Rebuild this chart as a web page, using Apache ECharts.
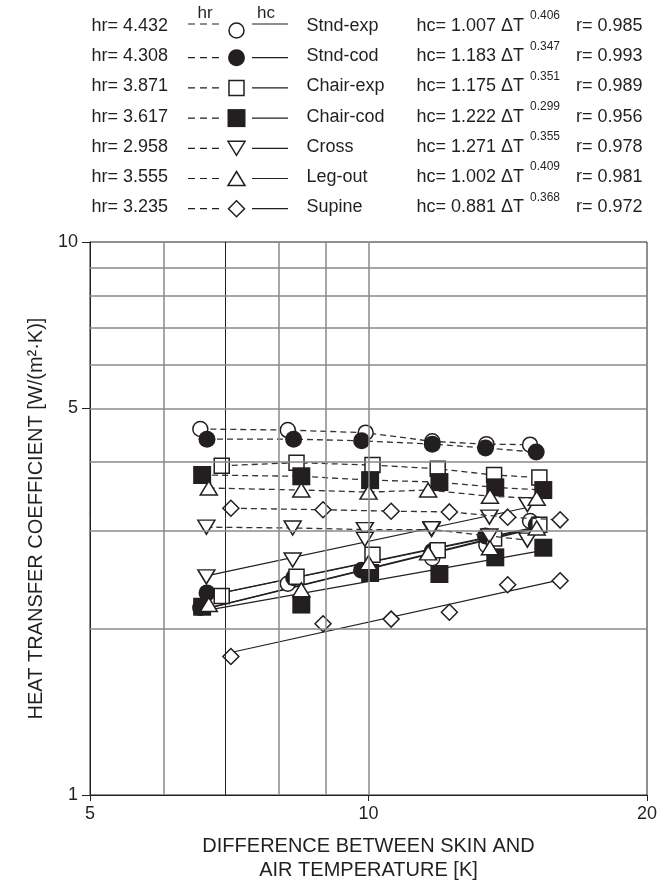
<!DOCTYPE html>
<html><head><meta charset="utf-8">
<script src="https://cdn.jsdelivr.net/npm/echarts@6/dist/echarts.min.js"></script>
<style>html,body{margin:0;padding:0;background:#fff}#c{width:667px;height:889px}</style>
</head><body><div id="c"></div>
<script>
// ---------- data ----------
const categories = ['Stnd-exp', 'Stnd-cod', 'Chair-exp', 'Chair-cod', 'Cross', 'Leg-out', 'Supine'];
const hrMean = ['4.432', '4.308', '3.871', '3.617', '2.958', '3.555', '3.235'];
const hcCoef = ['1.007', '1.183', '1.175', '1.222', '1.271', '1.002', '0.881'];
const hcExp  = ['0.406', '0.347', '0.351', '0.299', '0.355', '0.409', '0.368'];
const rVals  = ['0.985', '0.993', '0.989', '0.956', '0.978', '0.981', '0.972'];

const dTStndExp  = [6.58, 8.18, 9.93, 11.72, 13.41, 14.95];
const hrStndExp  = [4.59, 4.57, 4.52, 4.36, 4.31, 4.30];
const hcStndExp  = [2.18, 2.41, 2.55, 2.68, 2.83, 3.13];
const fitStndExp = [[6.58, 2.16], [14.95, 3.02]];

const dTStndCod  = [6.69, 8.30, 9.83, 11.72, 13.38, 15.18];
const hrStndCod  = [4.40, 4.40, 4.37, 4.31, 4.24, 4.17];
const hcStndCod  = [2.32, 2.47, 2.55, 2.76, 2.94, 3.08];
const fitStndCod = [[6.69, 2.29], [15.18, 3.04]];

const dTChairExp  = [6.94, 8.36, 10.10, 11.88, 13.67, 15.30];
const hrChairExp  = [3.94, 3.99, 3.95, 3.89, 3.79, 3.75];
const hcChairExp  = [2.29, 2.48, 2.72, 2.77, 2.91, 3.08];
const fitChairExp = [[6.94, 2.32], [15.30, 3.06]];

const dTChairCod  = [6.61, 8.46, 10.04, 11.93, 13.71, 15.45];
const hrChairCod  = [3.79, 3.77, 3.71, 3.68, 3.60, 3.56];
const hcChairCod  = [2.19, 2.21, 2.52, 2.51, 2.69, 2.80];
const fitChairCod = [[6.61, 2.15], [15.45, 2.77]];

const dTCross  = [6.68, 8.28, 9.91, 11.70, 13.51, 14.85];
const hrCross  = [3.05, 3.04, 3.02, 3.02, 2.94, 2.89];
const hcCross  = [2.48, 2.66, 2.90, 3.03, 3.18, 3.35];
const fitCross = [[6.68, 2.49], [14.85, 3.31]];

const dTLegOut  = [6.72, 8.46, 10.00, 11.60, 13.53, 15.20];
const hrLegOut  = [3.59, 3.56, 3.53, 3.56, 3.47, 3.44];
const hcLegOut  = [2.21, 2.35, 2.63, 2.74, 2.80, 3.04];
const fitLegOut = [[6.72, 2.18], [15.20, 3.05]];

const dTSupine  = [7.10, 8.93, 10.58, 12.23, 14.14, 16.11];
const hrSupine  = [3.30, 3.28, 3.26, 3.25, 3.18, 3.145];
const hcSupine  = [1.78, 2.04, 2.08, 2.14, 2.40, 2.44];
const fitSupine = [[7.10, 1.81], [16.11, 2.45]];

const xTickLabels = [5, 10, 20];
const yTickLabels = [1, 5, 10];
const xGrid = [6, 7, 8, 9, 10];
const yGrid = [2, 3, 4, 5, 6, 7, 8, 9];

// ---------- styling ----------
const INK = '#231f20';
const FONT = '"Liberation Sans", Arial, Helvetica, sans-serif';
const dTs  = [dTStndExp, dTStndCod, dTChairExp, dTChairCod, dTCross, dTLegOut, dTSupine];
const hrs  = [hrStndExp, hrStndCod, hrChairExp, hrChairCod, hrCross, hrLegOut, hrSupine];
const hcs  = [hcStndExp, hcStndCod, hcChairExp, hcChairCod, hcCross, hcLegOut, hcSupine];
const fits = [fitStndExp, fitStndCod, fitChairExp, fitChairCod, fitCross, fitLegOut, fitSupine];
const symbols = ['circle', 'circle', 'rect', 'rect', 'triangle', 'triangle', 'diamond'];
const filled  = [false, true, false, true, false, false, false];
const rotates = [0, 0, 0, 0, 180, 0, 0];
const sizes   = [[15, 15], [17, 17], [15, 15], [18, 18], [17, 14], [17, 14], [16, 16]];

function zip(a, b) { return a.map((v, k) => [v, b[k]]); }
function markerStyle(i) {
  return filled[i]
    ? { color: INK, borderColor: INK, borderWidth: 0, opacity: 1 }
    : { color: '#ffffff', borderColor: INK, borderWidth: 1.5, opacity: 1 };
}

const series = [];
// grid lines
series.push({
  type: 'line', data: [], z: 1, silent: true,
  markLine: {
    silent: true, symbol: ['none', 'none'], label: { show: false }, animation: false,
    data: xGrid.map(v => ({ xAxis: v, lineStyle: v === 7 ? { color: INK, width: 1, type: 'solid' } : { color: '#8a8a8a', width: 1.5, type: 'solid' } }))
      .concat(yGrid.map(v => ({ yAxis: v, lineStyle: { color: '#8a8a8a', width: 1.5, type: 'solid' } })))
  }
});
categories.forEach((name, i) => {
  series.push({
    type: 'line', name: name + ' fit', data: fits[i], showSymbol: false, symbol: 'none', z: 3,
    lineStyle: { color: INK, width: 1.2, type: 'solid' }, silent: true
  });
});
categories.forEach((name, i) => {
  series.push({
    type: 'line', name: name + ' hr', data: zip(dTs[i], hrs[i]), z: 4 + i * 0.01,
    symbol: symbols[i], symbolSize: sizes[i], symbolRotate: rotates[i], showAllSymbol: true,
    itemStyle: markerStyle(i),
    lineStyle: { color: '#333333', width: 1.3, type: [6, 4] }
  });
  series.push({
    type: 'scatter', name: name + ' hc', data: zip(dTs[i], hcs[i]), z: 4 + i * 0.01,
    symbol: symbols[i], symbolSize: sizes[i], symbolRotate: rotates[i],
    itemStyle: markerStyle(i)
  });
});

// ---------- legend (graphic) ----------
const graphics = [];
const rowY0 = 26, rowStep = 30.2;
function txt(x, y, text, size, align) {
  return { type: 'text', x: x, y: y, silent: true,
    style: { text: text, fontSize: size, fontFamily: FONT, fill: INK, textAlign: align || 'left', textVerticalAlign: 'middle' } };
}
function legendMarker(i, cx, cy) {
  const st = filled[i] ? { fill: INK, stroke: INK, lineWidth: 0 } : { fill: '#fff', stroke: INK, lineWidth: 1.5 };
  const w = sizes[i][0], h = sizes[i][1];
  if (symbols[i] === 'circle') return { type: 'circle', shape: { cx: cx, cy: cy, r: w / 2 }, style: st };
  if (symbols[i] === 'rect') return { type: 'rect', shape: { x: cx - w / 2, y: cy - h / 2, width: w, height: h }, style: st };
  if (symbols[i] === 'triangle') {
    const pts = rotates[i] ? [[cx - w / 2, cy - h / 2], [cx + w / 2, cy - h / 2], [cx, cy + h / 2]]
                           : [[cx, cy - h / 2], [cx + w / 2, cy + h / 2], [cx - w / 2, cy + h / 2]];
    return { type: 'polygon', shape: { points: pts }, style: st };
  }
  return { type: 'polygon', shape: { points: [[cx, cy - h / 2], [cx + w / 2, cy], [cx, cy + h / 2], [cx - w / 2, cy]] }, style: st };
}
graphics.push(txt(205, 13, 'hr', 17, 'center'));
graphics.push(txt(266, 13, 'hc', 17, 'center'));
categories.forEach((name, i) => {
  const y = rowY0 + i * rowStep;
  const ly = i === 0 ? y - 2 : y + 1.5;
  const my = i === 0 ? y + 4.5 : y + 1.5;
  graphics.push(txt(91.5, y, 'hr= ' + hrMean[i], 18));
  graphics.push({ type: 'line', silent: true, shape: { x1: 188, y1: ly, x2: 221, y2: ly }, style: { stroke: INK, lineWidth: 1.2, lineDash: [7, 5] } });
  graphics.push({ type: 'line', silent: true, shape: { x1: 252, y1: ly, x2: 288, y2: ly }, style: { stroke: INK, lineWidth: 1.2 } });
  graphics.push(legendMarker(i, 236.5, my));
  graphics.push(txt(306.5, y, name, 18));
  graphics.push(txt(416.5, y, 'hc= ' + hcCoef[i] + ' ΔT', 18));
  graphics.push(txt(530, y - 10, hcExp[i], 12));
  graphics.push(txt(576, y, 'r= ' + rVals[i], 18));
});
// axis titles
graphics.push(txt(368.5, 846, 'DIFFERENCE BETWEEN SKIN AND', 20, 'center'));
graphics.push(txt(368.5, 870, 'AIR TEMPERATURE [K]', 20, 'center'));
graphics.push({ type: 'text', x: 36, y: 518.5, rotation: Math.PI / 2, silent: true,
  style: { text: 'HEAT TRANSFER COEFFICIENT [W/(m²·K)]', fontSize: 20, fontFamily: FONT, fill: INK, textAlign: 'center', textVerticalAlign: 'middle' } });

const chart = echarts.init(document.getElementById('c'), null, { renderer: 'canvas' });
chart.setOption({
  animation: false,
  backgroundColor: '#ffffff',
  grid: { left: 90, right: 20, top: 242, bottom: 94, show: true, borderColor: INK, borderWidth: 1, backgroundColor: 'transparent' },
  xAxis: {
    type: 'log', logBase: 10, min: 5, max: 20,
    splitLine: { show: false }, minorTick: { show: false }, minorSplitLine: { show: false },
    axisLine: { show: true, lineStyle: { color: INK, width: 1 } },
    axisTick: { show: true, customValues: xTickLabels, length: 6, lineStyle: { color: INK, width: 1 } },
    axisLabel: { customValues: xTickLabels, fontSize: 18, fontFamily: FONT, color: INK, margin: 10 }
  },
  yAxis: {
    type: 'log', logBase: 10, min: 1, max: 10,
    splitLine: { show: false }, minorTick: { show: false }, minorSplitLine: { show: false },
    axisLine: { show: true, lineStyle: { color: INK, width: 1 } },
    axisTick: { show: true, customValues: yTickLabels, length: 8, lineStyle: { color: INK, width: 1 } },
    axisLabel: { customValues: yTickLabels, fontSize: 18, fontFamily: FONT, color: INK, margin: 12 }
  },
  graphic: { elements: graphics },
  series: series
});
</script></body></html>
